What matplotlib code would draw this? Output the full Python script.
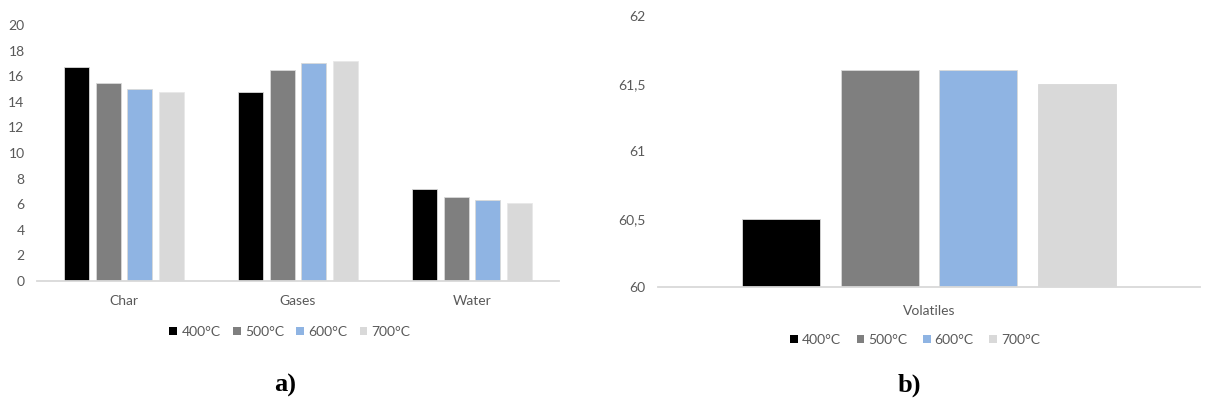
import numpy as np
import matplotlib.pyplot as plt
from matplotlib.ticker import FuncFormatter
from matplotlib.patches import Patch

temps = ["400°C", "500°C", "600°C", "700°C"]
colors = ["#000000", "#7f7f7f", "#8fb4e3", "#d9d9d9"]

products = ["Char", "Gases", "Water"]
char_vals = [16.7, 15.5, 15.0, 14.8]
gas_vals = [14.8, 16.5, 17.0, 17.2]
water_vals = [7.2, 6.6, 6.3, 6.1]

vol_label = ["Volatiles"]
vol_vals = [60.5, 61.6, 61.6, 61.5]

plt.rcParams["font.family"] = ["Lato", "DejaVu Sans"]
text_grey = "#595959"

fig = plt.figure(figsize=(12.05, 4.11), dpi=100)
ax1 = fig.add_axes([0.0307, 0.3163, 0.4332, 0.6229])
ax2 = fig.add_axes([0.546, 0.3017, 0.4498, 0.6594])

width = 0.144
step = 0.182


def style(ax):
    for s in ["left", "right", "top"]:
        ax.spines[s].set_visible(False)
    ax.spines["bottom"].set_color("#d9d9d9")
    ax.spines["bottom"].set_linewidth(1.3)
    ax.tick_params(length=0, colors=text_grey, labelsize=10)
    ax.tick_params(axis="x", pad=10)


# a) product yields
x = np.arange(len(products))
by_temp = np.array([char_vals, gas_vals, water_vals]).T
for i, (vals, c) in enumerate(zip(by_temp, colors)):
    ax1.bar(x + (i - 1.5) * step, vals, width, color=c,
            edgecolor="#d9d9d9" if i < 3 else "#e8e8e8", linewidth=0.6)
ax1.set_xlim(-0.5, 2.5)
ax1.set_ylim(0, 20)
ax1.set_yticks(range(0, 21, 2))
ax1.set_xticks(x)
ax1.set_xticklabels(products)
style(ax1)
ax1.tick_params(axis="y", pad=9)

# b) volatiles
for i, (v, c) in enumerate(zip(vol_vals, colors)):
    ax2.bar(0 + (i - 1.5) * step, v, width, color=c,
            edgecolor="#d9d9d9", linewidth=0.6)
ax2.set_xlim(-0.5, 0.5)
ax2.set_ylim(60, 62)
ax2.set_yticks([60, 60.5, 61, 61.5, 62])
ax2.yaxis.set_major_formatter(
    FuncFormatter(lambda v, p: f"{v:g}".replace(".", ",")))
ax2.set_xticks([0])
ax2.set_xticklabels(vol_label)
style(ax2)
ax2.tick_params(axis="x", pad=13)
ax2.tick_params(axis="y", pad=9)

handles = [Patch(facecolor=c, edgecolor="none") for c in colors]
for cx, cy, cs in [(0.2407, 0.192, 0.9), (0.7595, 0.173, 1.1)]:
    fig.legend(handles, temps, loc="center", bbox_to_anchor=(cx, cy),
               ncol=4, frameon=False, handlelength=0.55, handleheight=0.55,
               handletextpad=0.3, columnspacing=cs,
               prop={"size": 10}, labelcolor=text_grey)

fig.text(0.2365, 0.063, "a)", ha="center", va="center",
         family="Liberation Serif", weight="bold", fontsize=19)
fig.text(0.755, 0.063, "b)", ha="center", va="center",
         family="Liberation Serif", weight="bold", fontsize=19)

fig.savefig("out.png", dpi=100)
